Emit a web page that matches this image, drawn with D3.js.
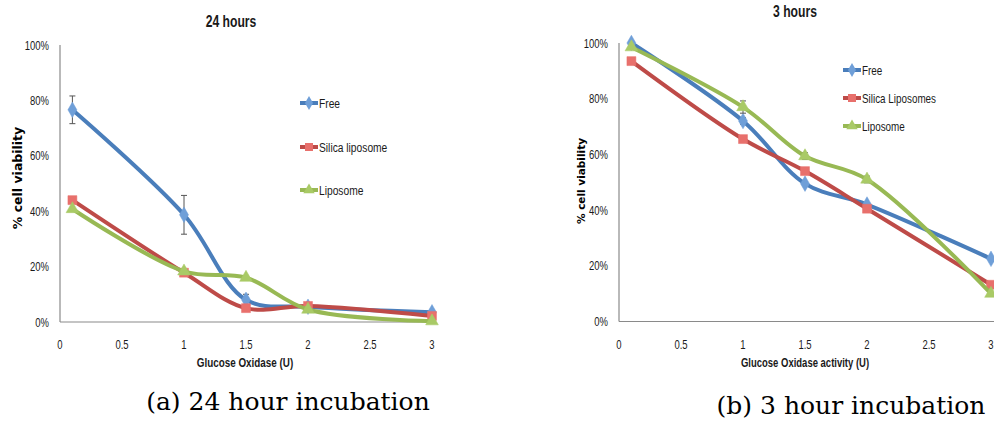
<!DOCTYPE html>
<html>
<head>
<meta charset="utf-8">
<script src="https://cdn.jsdelivr.net/npm/d3@7"></script>
<style>
body { margin: 0; background: #fff; }
svg { display: block; }
.nar { font-family: "Liberation Sans", Arial, sans-serif; }
.cap { font-family: "DejaVu Serif", "Liberation Serif", serif; }
</style>
</head>
<body>
<svg width="994" height="421"></svg>
<script>
var svg = d3.select('svg')

// x values (Glucose Oxidase, U)
var doses = [0.1, 1, 1.5, 2, 3]
var xTicks = [0, 0.5, 1, 1.5, 2, 2.5, 3]
var yTicks = [0, 0.2, 0.4, 0.6, 0.8, 1]

// 24 hours
var free24 = [0.766, 0.387, 0.08, 0.055, 0.035]
var free24Err = [0.05, 0.07, 0.02, 0, 0]
var silica24 = [0.44, 0.178, 0.05, 0.058, 0.022]
var silica24Err = [0, 0, 0, 0, 0]
var lipo24 = [0.408, 0.183, 0.16, 0.045, 0.003]
var lipo24Err = [0, 0, 0, 0, 0]

// 3 hours
var free3 = [1.0, 0.72, 0.495, 0.42, 0.225]
var free3Err = [0, 0.012, 0, 0, 0]
var silica3 = [0.935, 0.655, 0.54, 0.405, 0.132]
var silica3Err = [0, 0, 0, 0, 0]
var lipo3 = [0.985, 0.77, 0.594, 0.51, 0.1]
var lipo3Err = [0, 0.022, 0.012, 0.012, 0]

var colors = [
//	[line, marker]
	["#4a7ebb", "#6f9fd8"],
	["#be4b48", "#e8706c"],
	["#98b954", "#a9ca66"]
]

var charts = [
	{
		title: "24 hours", titleX: 231, titleY: 27,
		xTitle: "Glucose Oxidase (U)", xTitleX: 245, xTitleSize: 13,
		caption: "(a) 24 hour incubation", capX: 288, capY: 410,
		left: 60, top: 45, bottom: 322, right: 432,
		legX: 300, legY: [103, 147, 190], legSize: 13.5,
		yTitleX: 22, yTitleY: 178, yTitleSize: 12.5,
		names: ["Free", "Silica liposome", "Liposome"],
		series: [[free24, free24Err], [silica24, silica24Err], [lipo24, lipo24Err]]
	},
	{
		title: "3 hours", titleX: 795, titleY: 17,
		xTitle: "Glucose Oxidase activity (U)", xTitleX: 805, xTitleSize: 12.5,
		caption: "(b) 3 hour incubation", capX: 851, capY: 414,
		left: 619, top: 43, bottom: 321.5, right: 991,
		legX: 843, legY: [70, 98, 126], legSize: 13,
		yTitleX: 585, yTitleY: 181, yTitleSize: 10.5,
		names: ["Free", "Silica Liposomes", "Liposome"],
		series: [[free3, free3Err], [silica3, silica3Err], [lipo3, lipo3Err]]
	}
]

var markerTypes = [d3.symbolDiamond, d3.symbolSquare, d3.symbolTriangle]
var markerSizes = [70, 80, 70]

//Narrow (Calibri-like) text: Liberation Sans squeezed horizontally
function narrowText(g, x, y, str, size, anchor, bold) {
	return g.append('text').attr('class', 'nar')
		.attr('transform', 'translate(' + x + ',' + y + ') scale(0.76,1)')
		.attr('text-anchor', anchor).attr('font-size', size)
		.attr('font-weight', bold ? 'bold' : 'normal')
		.attr('fill', '#1a1a1a')
		.text(str)
}

charts.forEach(drawChart)

function drawChart(c) {
	var g = svg.append('g')
	var x = d3.scaleLinear().domain([0, 3]).range([c.left, c.right])
	var y = d3.scaleLinear().domain([0, 1]).range([c.bottom, c.top])

	//Axes lines
	g.append('line').attr('x1', c.left).attr('x2', c.left)
		.attr('y1', c.top).attr('y2', c.bottom)
		.attr('stroke', '#8a8a8a').attr('stroke-width', 1.2)
	g.append('line').attr('x1', c.left).attr('x2', c.right + 3)
		.attr('y1', c.bottom).attr('y2', c.bottom)
		.attr('stroke', '#8a8a8a').attr('stroke-width', 1.2)

	//Tick labels
	yTicks.forEach(function(d) {
		narrowText(g, c.left - 11, y(d) + 4.5, d3.format('.0%')(d), 12.5, 'end')
	})
	xTicks.forEach(function(d) {
		narrowText(g, x(d), c.bottom + 27, d, 12.5, 'middle')
	})

	//Titles
	narrowText(g, c.titleX, c.titleY, c.title, 16, 'middle', true)
	narrowText(g, c.xTitleX, c.bottom + 45, c.xTitle, c.xTitleSize, 'middle', true)
	g.append('text')
		.attr('transform', 'translate(' + c.yTitleX + ',' + c.yTitleY + ') rotate(-90)')
		.attr('text-anchor', 'middle').attr('font-size', c.yTitleSize).attr('font-weight', 'bold')
		.attr('font-family', 'DejaVu Sans, sans-serif')
		.text('% cell viability')
	g.append('text').attr('class', 'cap').attr('x', c.capX).attr('y', c.capY)
		.attr('text-anchor', 'middle').attr('font-size', 25)
		.text(c.caption)

	var line = d3.line()
		.x(function(d) { return x(d[0]) })
		.y(function(d) { return y(d[1]) })
		.curve(d3.curveCatmullRom.alpha(0.5))

	c.series.forEach(function(s, i) {
		var pts = doses.map(function(d, j) { return [d, s[0][j], s[1][j]] })
		var sg = g.append('g')
		//Error bars
		pts.filter(function(p) { return p[2] > 0 }).forEach(function(p) {
			var px = x(p[0])
			sg.append('path')
				.attr('d', 'M' + (px - 3) + ',' + y(p[1] + p[2]) + 'H' + (px + 3) +
					'M' + px + ',' + y(p[1] + p[2]) + 'V' + y(p[1] - p[2]) +
					'M' + (px - 3) + ',' + y(p[1] - p[2]) + 'H' + (px + 3))
				.attr('stroke', '#555').attr('stroke-width', 1).attr('fill', 'none')
		})
		sg.append('path').datum(pts).attr('d', line)
			.attr('fill', 'none').attr('stroke', colors[i][0]).attr('stroke-width', 4)
			.attr('stroke-linejoin', 'round')
		sg.selectAll('.mk').data(pts).enter().append('path')
			.attr('transform', function(p) { return 'translate(' + x(p[0]) + ',' + y(p[1]) + ')' })
			.attr('d', d3.symbol().type(markerTypes[i]).size(markerSizes[i]))
			.attr('fill', colors[i][1]).attr('stroke', colors[i][1]).attr('stroke-width', 0.5)

		//Legend
		var ly = c.legY[i]
		g.append('line').attr('x1', c.legX).attr('x2', c.legX + 18)
			.attr('y1', ly).attr('y2', ly)
			.attr('stroke', colors[i][0]).attr('stroke-width', 4)
		g.append('path')
			.attr('transform', 'translate(' + (c.legX + 9) + ',' + ly + ')')
			.attr('d', d3.symbol().type(markerTypes[i]).size(markerSizes[i] * 0.8))
			.attr('fill', colors[i][1])
		narrowText(g, c.legX + 19, ly + 5, c.names[i], c.legSize, 'start')
	})
}
</script>
</body>
</html>
